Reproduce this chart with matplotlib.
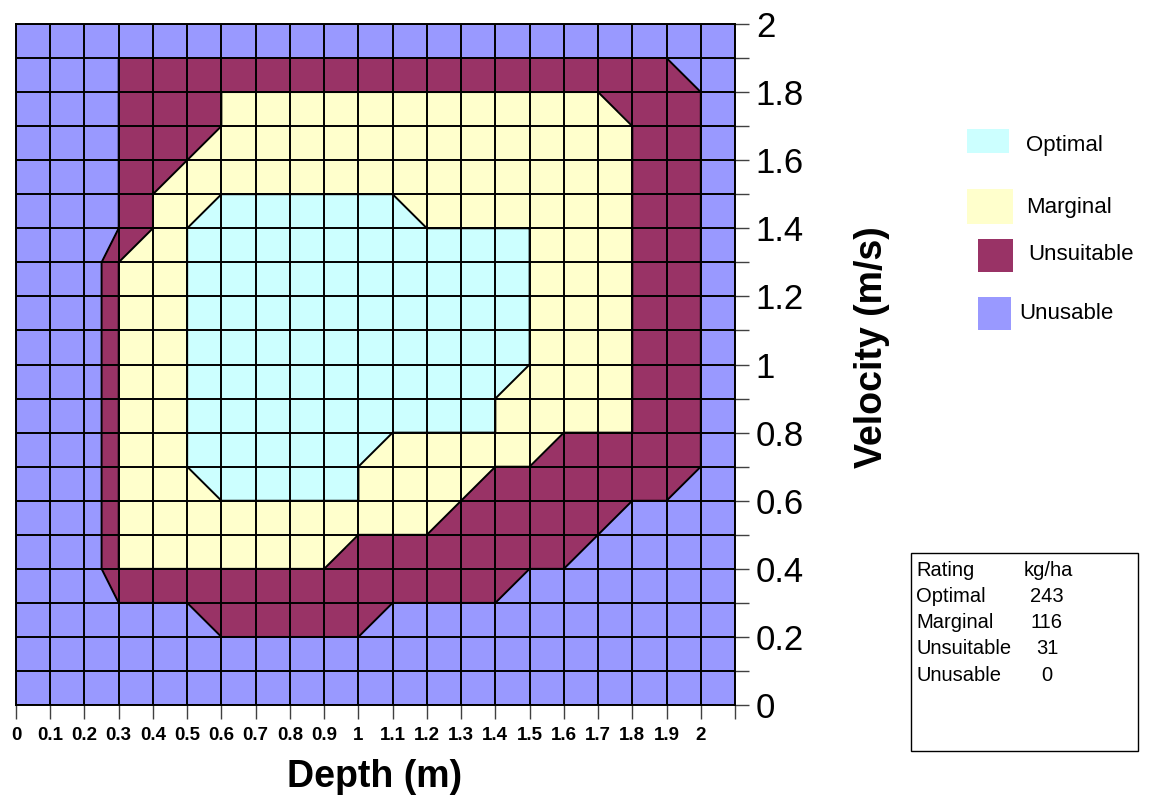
import numpy as np
import matplotlib.pyplot as plt
from matplotlib.patches import Rectangle

plt.rcParams['font.family'] = ['Liberation Sans', 'DejaVu Sans']

# grid of the surface (category axis / value axis)
depth = [0, 0.1, 0.2, 0.3, 0.4, 0.5, 0.6, 0.7, 0.8, 0.9, 1.0, 1.1,
         1.2, 1.3, 1.4, 1.5, 1.6, 1.7, 1.8, 1.9, 2.0, 2.1]
velocity = [0, 0.1, 0.2, 0.3, 0.4, 0.5, 0.6, 0.7, 0.8, 0.9, 1.0,
            1.1, 1.2, 1.3, 1.4, 1.5, 1.6, 1.7, 1.8, 1.9, 2.0]

# habitat rating at each node, top row = velocity 2.0
# 0 unusable, 1 unsuitable, 2 marginal, 3 optimal
rating_rows = [
    "0000000000000000000000",  # 2.0
    "0001111111111111111100",  # 1.9
    "0001112222222222221110",  # 1.8
    "0001112222222222222110",  # 1.7
    "0001122222222222222110",  # 1.6
    "0001223333332222222110",  # 1.5
    "0001233333333333222110",  # 1.4
    "0002233333333333222110",  # 1.3
    "0002233333333333222110",  # 1.2
    "0002233333333333222110",  # 1.1
    "0002233333333333222110",  # 1.0
    "0002233333333332222110",  # 0.9
    "0002233333333332222110",  # 0.8
    "0002233333322222111110",  # 0.7
    "0002223333322211111100",  # 0.6
    "0002222222222111110000",  # 0.5
    "0002222222111111100000",  # 0.4
    "0001111111111110000000",  # 0.3
    "0000001111100000000000",  # 0.2
    "0000000000000000000000",  # 0.1
    "0000000000000000000000",  # 0.0
]

ratings = ['Optimal', 'Marginal', 'Unsuitable', 'Unusable']
yield_kg_ha = [243, 116, 31, 0]
rating_colors = ['#CCFFFF', '#FFFFCC', '#993366', '#9999FF']

Z = np.array([[int(c) for c in row] for row in rating_rows[::-1]])

fig = plt.figure(figsize=(11.53, 7.98), dpi=100)
ax = fig.add_axes([16 / 1153, 93 / 798, 719 / 1153, 681 / 798])

levels = [-0.5, 0.999, 1.999, 2.999, 3.5]
ax.contourf(depth, velocity, Z, levels=levels, colors=rating_colors[::-1])
ax.contour(depth, velocity, Z, levels=levels[1:4], colors='black', linewidths=1.4)

for x in depth:
    ax.axvline(x, color='black', lw=1.4)
for y in velocity:
    ax.axhline(y, color='black', lw=1.4)

ax.set_xlim(0, 2.1)
ax.set_ylim(0, 2.0)
for s in ax.spines.values():
    s.set_color('black')
    s.set_linewidth(1.4)

ax.set_xticks(depth)
ax.set_xticklabels(['%g' % d if d <= 2.0 else '' for d in depth],
                   fontsize=13.5, fontweight='bold')
ax.yaxis.tick_right()
ax.set_yticks(velocity)
ax.set_yticklabels(['%g' % v if round(v * 10) % 2 == 0 else '' for v in velocity],
                   fontsize=25)
ax.tick_params(axis='x', direction='out', length=10, width=1, color='#404040', pad=6)
ax.tick_params(axis='y', direction='out', length=10, width=1, color='#404040', pad=5)

fig.text(375 / 1153, 1 - 777 / 798, 'Depth (m)', fontsize=27, fontweight='bold',
         ha='center', va='center')
fig.text(872 / 1153, 1 - 347 / 798, 'Velocity (m/s)', fontsize=27, fontweight='bold',
         rotation=90, ha='center', va='center')

# legend of rating colours
patch_boxes = [(967, 129, 42, 24), (967, 189, 46, 35), (978, 239, 35, 33), (978, 297, 33, 33)]
text_pos = [(1026, 146), (1026, 207), (1028, 255), (1019, 314)]
for name, col, (px, py, pw, ph), (tx, ty) in zip(ratings, rating_colors, patch_boxes, text_pos):
    fig.patches.append(Rectangle((px / 1153, 1 - (py + ph) / 798), pw / 1153, ph / 798,
                                 transform=fig.transFigure, facecolor=col, edgecolor='none'))
    fig.text(tx / 1153, 1 - ty / 798, name, fontsize=16, ha='left', va='center')

# yield table
fig.patches.append(Rectangle((911 / 1153, 1 - 751 / 798), 227 / 1153, 198 / 798,
                             transform=fig.transFigure, facecolor='white',
                             edgecolor='black', lw=1))
fig.text(916 / 1153, 1 - 570 / 798, 'Rating', fontsize=14.5, ha='left', va='center')
fig.text(1048 / 1153, 1 - 570 / 798, 'kg/ha', fontsize=14.5, ha='center', va='center')
for i, (name, val) in enumerate(zip(ratings, yield_kg_ha)):
    yy = 596 + i * 26.5
    fig.text(916 / 1153, 1 - yy / 798, name, fontsize=14.5, ha='left', va='center')
    fig.text(1047 / 1153, 1 - yy / 798, str(val), fontsize=14.5, ha='center', va='center')

fig.savefig('out.png', dpi=100)
